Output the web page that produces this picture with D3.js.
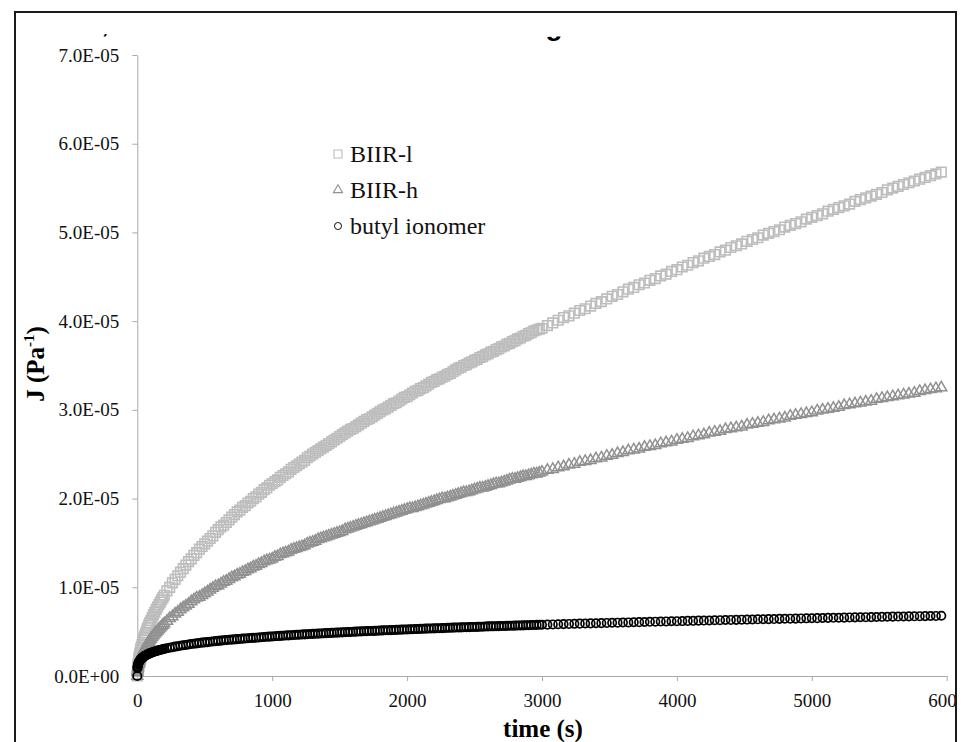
<!DOCTYPE html>
<html>
<head>
<meta charset="utf-8">
<script src="https://cdn.jsdelivr.net/npm/d3@7"></script>
<style>
  body { margin: 0; background: #fff; }
  svg { display: block; }
</style>
</head>
<body>
<script>
// Creep compliance J (units of 1e-6 Pa^-1)
const time = [0, 1, 2, 3, 5, 7, 10, 12, 14, 17, 20, 24, 27, 30, 35, 40, 45, 50, 55, 62,
    70, 77, 85, 92, 100, 110, 120, 130, 140, 150, 160, 170, 180, 190,
    200, 220, 240, 260, 280, 300, 320, 340, 360, 380,
    400, 420, 440, 460, 480, 500, 520, 540, 560, 580,
    600, 620, 640, 660, 680, 700, 720, 740, 760, 780,
    800, 820, 840, 860, 880, 900, 920, 940, 960, 980,
    1000, 1020, 1040, 1060, 1080, 1100, 1120, 1140, 1160, 1180,
    1200, 1220, 1240, 1260, 1280, 1300, 1320, 1340, 1360, 1380,
    1400, 1420, 1440, 1460, 1480, 1500, 1520, 1540, 1560, 1580,
    1600, 1620, 1640, 1660, 1680, 1700, 1720, 1740, 1760, 1780,
    1800, 1820, 1840, 1860, 1880, 1900, 1920, 1940, 1960, 1980,
    2000, 2020, 2040, 2060, 2080, 2100, 2120, 2140, 2160, 2180,
    2200, 2220, 2240, 2260, 2280, 2300, 2320, 2340, 2360, 2380,
    2400, 2420, 2440, 2460, 2480, 2500, 2520, 2540, 2560, 2580,
    2600, 2620, 2640, 2660, 2680, 2700, 2720, 2740, 2760, 2780,
    2800, 2820, 2840, 2860, 2880, 2900, 2920, 2940, 2960, 2980,
    3000, 3040, 3080, 3120, 3160, 3200, 3240, 3280, 3320, 3360,
    3400, 3440, 3480, 3520, 3560, 3600, 3640, 3680, 3720, 3760,
    3800, 3840, 3880, 3920, 3960, 4000, 4040, 4080, 4120, 4160,
    4200, 4240, 4280, 4320, 4360, 4400, 4440, 4480, 4520, 4560,
    4600, 4640, 4680, 4720, 4760, 4800, 4840, 4880, 4920, 4960,
    5000, 5040, 5080, 5120, 5160, 5200, 5240, 5280, 5320, 5360,
    5400, 5440, 5480, 5520, 5560, 5600, 5640, 5680, 5720, 5760,
    5800, 5840, 5880, 5920, 5960];

const jBiirL = [0, 0.52, 0.76, 0.94, 1.24, 1.49, 1.80, 1.99, 2.16, 2.40, 2.62, 2.89, 3.08, 3.26, 3.55, 3.81, 4.06, 4.30, 4.53, 4.83,
    5.16, 5.43, 5.73, 5.98, 6.25, 6.58, 6.90, 7.20, 7.50, 7.78, 8.06, 8.33, 8.59, 8.84,
    9.1, 9.6, 10.0, 10.5, 10.9, 11.3, 11.7, 12.1, 12.5, 12.9,
    13.2, 13.6, 13.9, 14.3, 14.6, 14.9, 15.2, 15.5, 15.8, 16.2,
    16.5, 16.8, 17.0, 17.3, 17.6, 17.9, 18.2, 18.5, 18.7, 19.0,
    19.2, 19.5, 19.7, 20.0, 20.2, 20.5, 20.7, 21.0, 21.2, 21.5,
    21.7, 21.9, 22.1, 22.4, 22.6, 22.8, 23.0, 23.3, 23.5, 23.7,
    23.9, 24.1, 24.3, 24.6, 24.8, 25.0, 25.2, 25.4, 25.6, 25.8,
    26.0, 26.2, 26.4, 26.6, 26.8, 27.0, 27.2, 27.4, 27.6, 27.8,
    27.9, 28.1, 28.3, 28.5, 28.7, 28.9, 29.0, 29.2, 29.4, 29.6,
    29.8, 30.0, 30.1, 30.3, 30.5, 30.7, 30.8, 31.0, 31.2, 31.4,
    31.5, 31.7, 31.9, 32.1, 32.2, 32.4, 32.5, 32.7, 32.9, 33.1,
    33.2, 33.4, 33.5, 33.7, 33.8, 34.0, 34.1, 34.3, 34.5, 34.7,
    34.8, 35.0, 35.1, 35.3, 35.4, 35.6, 35.7, 35.9, 36.0, 36.2,
    36.3, 36.5, 36.6, 36.8, 36.9, 37.1, 37.2, 37.4, 37.5, 37.7,
    37.8, 38.0, 38.1, 38.3, 38.4, 38.6, 38.7, 38.9, 39.0, 39.1,
    39.2, 39.5, 39.8, 40.1, 40.4, 40.6, 40.9, 41.2, 41.4, 41.7,
    42.0, 42.2, 42.5, 42.8, 43.0, 43.3, 43.6, 43.8, 44.1, 44.3,
    44.6, 44.8, 45.1, 45.3, 45.6, 45.8, 46.1, 46.3, 46.6, 46.8,
    47.1, 47.3, 47.5, 47.8, 48.0, 48.3, 48.5, 48.7, 49.0, 49.2,
    49.4, 49.7, 49.9, 50.1, 50.3, 50.6, 50.8, 51.0, 51.2, 51.5,
    51.7, 51.9, 52.1, 52.4, 52.6, 52.8, 53.0, 53.2, 53.5, 53.7,
    53.9, 54.1, 54.3, 54.5, 54.8, 55.0, 55.2, 55.4, 55.6, 55.8,
    56.0, 56.2, 56.4, 56.6, 56.8];

const jBiirH = [0, 0.41, 0.58, 0.71, 0.92, 1.09, 1.31, 1.43, 1.55, 1.70, 1.85, 2.03, 2.15, 2.27, 2.45, 2.62, 2.78, 2.93, 3.08, 3.27,
    3.47, 3.64, 3.83, 3.99, 4.16, 4.36, 4.56, 4.74, 4.92, 5.10, 5.27, 5.43, 5.59, 5.74,
    5.9, 6.2, 6.5, 6.7, 7.0, 7.2, 7.5, 7.7, 7.9, 8.1,
    8.4, 8.6, 8.8, 8.9, 9.1, 9.3, 9.5, 9.7, 9.9, 10.1,
    10.2, 10.4, 10.6, 10.7, 10.9, 11.1, 11.2, 11.4, 11.5, 11.7,
    11.8, 12.0, 12.1, 12.3, 12.4, 12.6, 12.7, 12.9, 13.0, 13.1,
    13.2, 13.4, 13.5, 13.7, 13.8, 13.9, 14.0, 14.2, 14.3, 14.4,
    14.5, 14.6, 14.7, 14.9, 15.0, 15.1, 15.2, 15.4, 15.5, 15.6,
    15.7, 15.8, 15.9, 16.0, 16.1, 16.2, 16.3, 16.5, 16.6, 16.7,
    16.8, 16.9, 17.0, 17.1, 17.2, 17.3, 17.4, 17.5, 17.6, 17.7,
    17.8, 17.9, 18.0, 18.1, 18.2, 18.3, 18.4, 18.5, 18.6, 18.7,
    18.8, 18.9, 18.9, 19.0, 19.1, 19.2, 19.3, 19.4, 19.5, 19.6,
    19.7, 19.8, 19.9, 20.0, 20.0, 20.1, 20.2, 20.3, 20.4, 20.5,
    20.6, 20.7, 20.7, 20.8, 20.9, 21.0, 21.1, 21.2, 21.2, 21.3,
    21.4, 21.5, 21.6, 21.7, 21.7, 21.8, 21.9, 22.0, 22.1, 22.2,
    22.2, 22.3, 22.4, 22.5, 22.5, 22.6, 22.7, 22.8, 22.8, 22.9,
    23.0, 23.2, 23.3, 23.5, 23.6, 23.8, 23.9, 24.1, 24.2, 24.3,
    24.5, 24.6, 24.8, 24.9, 25.1, 25.2, 25.4, 25.5, 25.6, 25.8,
    25.9, 26.0, 26.2, 26.3, 26.4, 26.6, 26.7, 26.8, 27.0, 27.1,
    27.2, 27.4, 27.5, 27.6, 27.8, 27.9, 28.0, 28.1, 28.3, 28.4,
    28.5, 28.6, 28.8, 28.9, 29.0, 29.1, 29.3, 29.4, 29.5, 29.6,
    29.7, 29.9, 30.0, 30.1, 30.2, 30.3, 30.5, 30.6, 30.7, 30.8,
    30.9, 31.0, 31.2, 31.3, 31.4, 31.5, 31.6, 31.7, 31.8, 31.9,
    32.1, 32.2, 32.3, 32.4, 32.5];

const jButyl = [0, 0.88, 1.04, 1.14, 1.29, 1.39, 1.51, 1.58, 1.64, 1.71, 1.78, 1.86, 1.91, 1.96, 2.03, 2.09, 2.15, 2.21, 2.26, 2.32,
    2.39, 2.44, 2.50, 2.55, 2.60, 2.66, 2.71, 2.76, 2.81, 2.86, 2.90, 2.94, 2.98, 3.02,
    3.06, 3.13, 3.19, 3.25, 3.31, 3.36, 3.41, 3.46, 3.50, 3.55,
    3.60, 3.64, 3.68, 3.72, 3.76, 3.79, 3.82, 3.86, 3.89, 3.93,
    3.96, 3.99, 4.02, 4.05, 4.08, 4.10, 4.13, 4.16, 4.18, 4.21,
    4.23, 4.26, 4.28, 4.30, 4.32, 4.35, 4.37, 4.40, 4.42, 4.44,
    4.46, 4.48, 4.50, 4.52, 4.54, 4.56, 4.58, 4.60, 4.62, 4.64,
    4.66, 4.68, 4.69, 4.71, 4.73, 4.75, 4.76, 4.78, 4.79, 4.81,
    4.83, 4.85, 4.86, 4.88, 4.89, 4.91, 4.92, 4.94, 4.95, 4.97,
    4.98, 5.00, 5.01, 5.03, 5.04, 5.06, 5.07, 5.08, 5.09, 5.11,
    5.12, 5.14, 5.15, 5.16, 5.17, 5.19, 5.20, 5.22, 5.23, 5.24,
    5.25, 5.26, 5.27, 5.29, 5.30, 5.31, 5.32, 5.34, 5.35, 5.36,
    5.37, 5.38, 5.39, 5.40, 5.41, 5.43, 5.44, 5.45, 5.46, 5.47,
    5.48, 5.49, 5.50, 5.51, 5.52, 5.53, 5.54, 5.55, 5.56, 5.58,
    5.59, 5.60, 5.60, 5.61, 5.62, 5.63, 5.64, 5.65, 5.66, 5.67,
    5.68, 5.69, 5.70, 5.71, 5.72, 5.73, 5.74, 5.75, 5.76, 5.77,
    5.78, 5.79, 5.81, 5.83, 5.85, 5.87, 5.88, 5.90, 5.92, 5.93,
    5.95, 5.96, 5.98, 6.00, 6.01, 6.03, 6.04, 6.06, 6.07, 6.09,
    6.11, 6.12, 6.14, 6.15, 6.17, 6.18, 6.19, 6.21, 6.22, 6.24,
    6.25, 6.26, 6.28, 6.29, 6.31, 6.32, 6.33, 6.35, 6.36, 6.37,
    6.39, 6.40, 6.41, 6.42, 6.44, 6.45, 6.46, 6.47, 6.49, 6.50,
    6.51, 6.52, 6.54, 6.55, 6.56, 6.57, 6.58, 6.60, 6.61, 6.62,
    6.63, 6.64, 6.65, 6.67, 6.68, 6.69, 6.70, 6.71, 6.72, 6.73,
    6.74, 6.75, 6.76, 6.77, 6.79];

const seriesNames = ["BIIR-l", "BIIR-h", "butyl ionomer"];

const xTicks = [0, 1000, 2000, 3000, 4000, 5000, 6000];
const xTickLabels = ["0", "1000", "2000", "3000", "4000", "5000", "6000"];
const yTicks = [0, 1e-5, 2e-5, 3e-5, 4e-5, 5e-5, 6e-5, 7e-5];
const yTickLabels = ["0.0E+00", "1.0E-05", "2.0E-05", "3.0E-05", "4.0E-05", "5.0E-05", "6.0E-05", "7.0E-05"];

const W = 961, H = 742;
const serif = "'Liberation Serif', 'Times New Roman', serif";
const axisGray = "#a9a9a9";

const svg = d3.select("body").append("svg")
    .attr("width", W)
    .attr("height", H);

const defs = svg.append("defs");

// everything is cut at the inside of the frame
defs.append("clipPath")
    .attr("id", "frameClip")
  .append("rect")
    .attr("x", 16).attr("y", 13)
    .attr("width", 939).attr("height", H);

// only the bottom of the old title shows below the cut
defs.append("clipPath")
    .attr("id", "commaClip")
  .append("rect")
    .attr("x", 16).attr("y", 34)
    .attr("width", 300).attr("height", 10);
defs.append("clipPath")
    .attr("id", "gClip")
  .append("rect")
    .attr("x", 400).attr("y", 36.5)
    .attr("width", 300).attr("height", 10);

const root = svg.append("g").attr("clip-path", "url(#frameClip)");

// Scales
const x = d3.scaleLinear().domain([0, 6000]).range([137.3, 946.7]);
const y = d3.scaleLinear().domain([0, 7e-5]).range([676, 55]);

// X axis
const xAxis = root.append("g")
    .attr("transform", `translate(0,${y(0)})`)
    .call(d3.axisBottom(x)
        .tickValues(xTicks)
        .tickFormat((d, i) => xTickLabels[i])
        .tickSize(5)
        .tickSizeOuter(0)
        .tickPadding(13));

// Y axis
const yAxis = root.append("g")
    .attr("transform", `translate(${x(0)},0)`)
    .call(d3.axisLeft(y)
        .tickValues(yTicks)
        .tickFormat((d, i) => yTickLabels[i])
        .tickSize(5)
        .tickSizeOuter(0)
        .tickPadding(13));

[xAxis, yAxis].forEach(a => {
    a.select(".domain").attr("stroke", axisGray);
    a.selectAll(".tick line").attr("stroke", axisGray);
    a.selectAll(".tick text")
        .style("font-family", serif)
        .style("font-size", "19px")
        .attr("fill", "#111");
});

// Markers (no fill, like the spreadsheet default)
const series = [
    { name: seriesNames[0], values: jBiirL, shape: d3.symbolSquare, size: 92, color: "#bdbdbd", width: 1.6 },
    { name: seriesNames[1], values: jBiirH, shape: d3.symbolTriangle, size: 52, color: "#919191", width: 1.5 },
    { name: seriesNames[2], values: jButyl, shape: d3.symbolCircle, size: 55, color: "#000", width: 1.7 }
];

series.forEach(s => {
    const pts = time.map((t, i) => ({ t: t, j: s.values[i] * 1e-6 }));
    root.append("g")
        .selectAll("path")
        .data(pts)
        .enter()
        .append("path")
        .attr("transform", d => `translate(${x(d.t)},${y(d.j)})`)
        .attr("d", d3.symbol().type(s.shape).size(s.size))
        .attr("fill", "none")
        .attr("stroke", s.color)
        .attr("stroke-width", s.width);
});

// Legend
const legend = root.append("g").attr("transform", "translate(338,154)");
series.forEach((s, i) => {
    const row = legend.append("g").attr("transform", `translate(0,${i * 36})`);
    row.append("path")
        .attr("d", d3.symbol().type(s.shape).size(s.size * 0.7))
        .attr("fill", "none")
        .attr("stroke", i === 2 ? "#333" : s.color)
        .attr("stroke-width", 1.1);
    row.append("text")
        .attr("x", 12)
        .attr("y", 8)
        .style("font-family", serif)
        .style("font-size", "24px")
        .attr("fill", "#111")
        .text(s.name);
});

// Axis titles
root.append("text")
    .attr("x", x(3000) + 1)
    .attr("y", 737)
    .attr("text-anchor", "middle")
    .style("font-family", serif)
    .style("font-size", "25px")
    .style("font-weight", "bold")
    .text("time (s)");

const yTitle = root.append("text")
    .attr("transform", "translate(44,364) rotate(-90)")
    .attr("text-anchor", "middle")
    .style("font-family", serif)
    .style("font-size", "25px")
    .style("font-weight", "bold");
yTitle.append("tspan").text("J (Pa");
yTitle.append("tspan").attr("dy", -10).style("font-size", "15px").text("-1");
yTitle.append("tspan").attr("dy", 10).text(")");

// remains of a title hidden above the plot
root.append("text")
    .attr("clip-path", "url(#commaClip)")
    .attr("x", 105).attr("y", 33)
    .attr("text-anchor", "middle")
    .style("font-family", "'Liberation Sans', Arial, sans-serif")
    .style("font-size", "24px")
    .style("font-weight", "bold")
    .text(",");
root.append("text")
    .attr("clip-path", "url(#gClip)")
    .attr("x", 554).attr("y", 35)
    .attr("text-anchor", "middle")
    .style("font-family", "'Liberation Sans', Arial, sans-serif")
    .style("font-size", "28px")
    .style("font-weight", "bold")
    .text("g");

// Frame
svg.append("rect")
    .attr("x", 15).attr("y", 12)
    .attr("width", 941).attr("height", H + 20)
    .attr("fill", "none")
    .attr("stroke", "#1a1a1a")
    .attr("stroke-width", 2);
</script>
</body>
</html>
